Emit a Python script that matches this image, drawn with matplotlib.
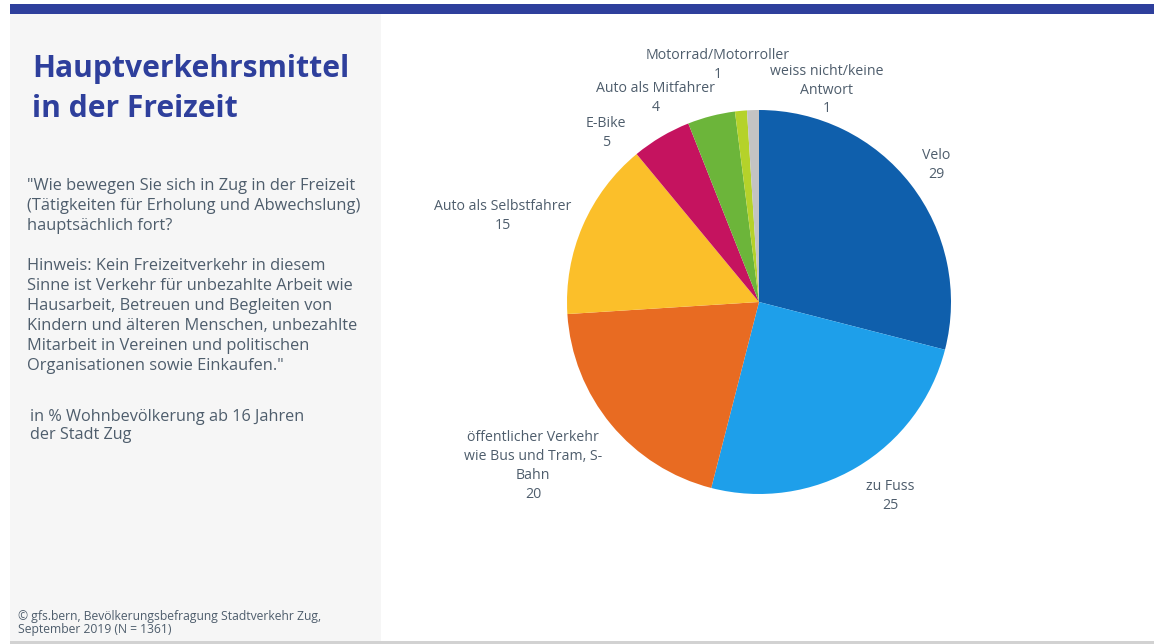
import matplotlib
matplotlib.use("Agg")
import matplotlib.pyplot as plt
from matplotlib.patches import Rectangle

# Survey data: main mode of transport in leisure time (%)
categories = [
    "Velo",
    "zu Fuss",
    "öffentlicher Verkehr\nwie Bus und Tram, S-\nBahn",
    "Auto als Selbstfahrer",
    "E-Bike",
    "Auto als Mitfahrer",
    "Motorrad/Motorroller",
    "weiss nicht/keine\nAntwort",
]
values = [29, 25, 20, 15, 5, 4, 1, 1]
colors = ["#0F5FAC", "#1E9FEA", "#E86B22", "#FBBF2A",
          "#C5135F", "#6CB53A", "#B5D22A", "#C3C3C3"]

title = "Hauptverkehrsmittel\nin der Freizeit"
question = ('"Wie bewegen Sie sich in Zug in der Freizeit\n'
            '(Tätigkeiten für Erholung und Abwechslung)\n'
            'hauptsächlich fort?\n\n'
            'Hinweis: Kein Freizeitverkehr in diesem\n'
            'Sinne ist Verkehr für unbezahlte Arbeit wie\n'
            'Hausarbeit, Betreuen und Begleiten von\n'
            'Kindern und älteren Menschen, unbezahlte\n'
            'Mitarbeit in Vereinen und politischen\n'
            'Organisationen sowie Einkaufen."')
base = "in % Wohnbevölkerung ab 16 Jahren\nder Stadt Zug"
source = "© gfs.bern, Bevölkerungsbefragung Stadtverkehr Zug,\nSeptember 2019 (N = 1361)"

W, H = 1154, 644
fig = plt.figure(figsize=(W / 100, H / 100), dpi=100)
fig.patch.set_facecolor("white")
plt.rcParams["font.family"] = ["Open Sans", "DejaVu Sans"]

# Page-level canvas in pixel coordinates
bg = fig.add_axes([0, 0, 1, 1])
bg.set_xlim(0, W)
bg.set_ylim(H, 0)
bg.axis("off")

bg.add_patch(Rectangle((10, 4), W - 10, 10, color="#2E3F9C", lw=0))
bg.add_patch(Rectangle((10, 14), 371, 627, color="#F6F6F6", lw=0))
bg.add_patch(Rectangle((10, 641), W - 10, 3, color="#D2D2D2", lw=0))

text_col = "#4E5D6C"
bg.text(32, 89, title, fontsize=21.6, fontweight="bold", color="#2E3F9C",
        va="center", ha="left", linespacing=1.46)
bg.text(27, 276, question, fontsize=11.8, color=text_col,
        va="center", ha="left", linespacing=1.335)
bg.text(30, 426, base, fontsize=11.7, color=text_col,
        va="center", ha="left", linespacing=1.2)
bg.text(18, 623, source, fontsize=8.7, color=text_col,
        va="center", ha="left", linespacing=1.05)

# Pie chart: centre (759, 302), radius 192 px
cx, cy, r = 759, 302, 192
pie_ax = fig.add_axes([(cx - r) / W, (H - cy - r) / H, 2 * r / W, 2 * r / H])
pie_ax.pie(values, colors=colors, startangle=90, counterclock=False,
           wedgeprops=dict(linewidth=0))
pie_ax.set_xlim(-1, 1)
pie_ax.set_ylim(-1, 1)
pie_ax.set_aspect("equal")
pie_ax.axis("off")

# Label anchor positions (pixel coordinates of text centre)
label_pos = [
    (936, 165),
    (890, 496),
    (533, 466),
    (503, 216),
    (606, 133),
    (656, 98),
    (718, 65),
    (827, 90),
]
for cat, val, (x, y) in zip(categories, values, label_pos):
    bg.text(x, y, f"{cat}\n{val}", fontsize=10.2, color=text_col,
            ha="center", va="center", linespacing=1.35)

fig.savefig("out.png", dpi=100)
